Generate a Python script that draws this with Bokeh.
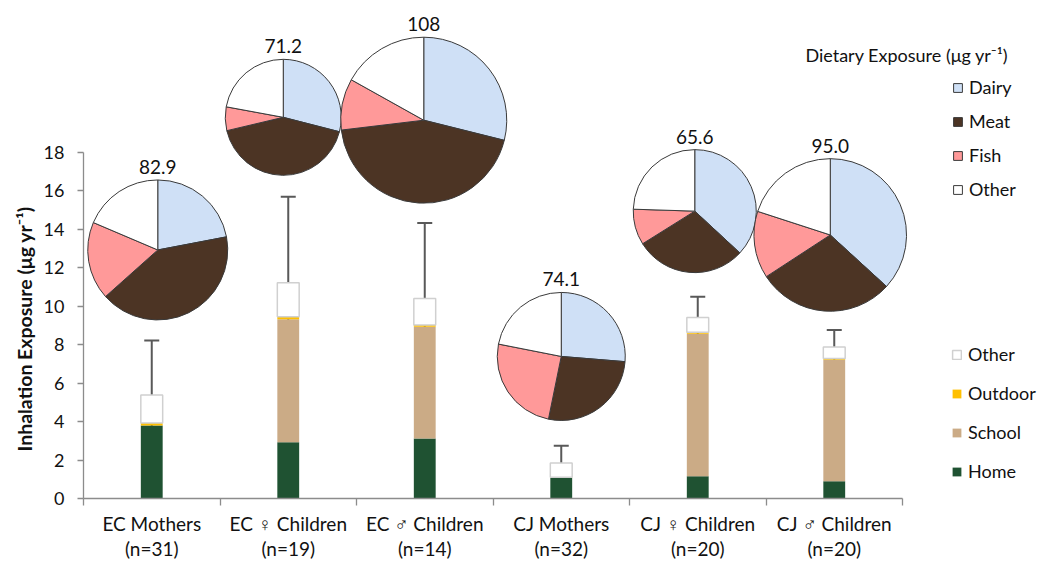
import math
from bokeh.plotting import figure
from bokeh.models import (ColumnDataSource, Range1d, FixedTicker, LinearAxis, Legend,
                          LegendItem, Whisker, TeeHead, Label, Title)
from bokeh.core.properties import value
from bokeh.embed import file_html
from bokeh.resources import INLINE

# ---------------- data ----------------
categories = ["EC Mothers\n(n=31)", "EC \u2640 Children\n(n=19)", "EC \u2642 Children\n(n=14)",
              "CJ Mothers\n(n=32)", "CJ \u2640 Children\n(n=20)", "CJ \u2642 Children\n(n=20)"]

# inhalation exposure (ug/yr), stacked
home = [3.80, 2.92, 3.12, 1.07, 1.16, 0.90]
school = [0.00, 6.41, 5.81, 0.00, 7.41, 6.32]
outdoor = [0.13, 0.12, 0.09, 0.04, 0.08, 0.06]
inh_other = [1.45, 1.78, 1.38, 0.74, 0.76, 0.60]
inh_sd = [2.84, 4.47, 3.93, 0.90, 1.09, 0.89]

# dietary exposure (ug/yr): totals and percentage shares
diet_total = [82.9, 71.2, 108, 74.1, 65.6, 95.0]
diet_label = ["82.9", "71.2", "108", "74.1", "65.6", "95.0"]
dairy = [22.0, 29.0, 28.9, 26.3, 36.9, 36.8]
meat = [41.4, 42.3, 44.2, 26.9, 29.2, 29.0]
fish = [18.0, 6.6, 10.0, 24.9, 9.4, 14.2]
diet_other = [18.6, 22.1, 16.9, 21.9, 24.5, 20.0]

# ---------------- layout (positions / sizes) ----------------
pie_dx_px = [6, -5, -1, 0, -3, -4]
pie_cy = [12.93, 19.83, 19.68, 7.39, 14.95, 13.71]
pie_r_px = [70, 58, 83, 64, 61.5, 76.3]
CAT_PX = 136.5

FONT = "Lato"
AXIS_GRAY = "#8c8c8c"
TXT = "#111111"

C_HOME = "#1f5232"
C_SCHOOL = "#cbab86"
C_OUTDOOR = "#ffc000"
C_OTHER = "#ffffff"
C_DAIRY = "#cfe0f6"
C_MEAT = "#4c3424"
C_FISH = "#ff9999"

W, H = 1043, 563
LEFT, BOTTOM = 83, 64
p = figure(width=W, height=H,
           x_range=Range1d(0, (W - LEFT) / CAT_PX),
           y_range=Range1d(0, (H - BOTTOM) / 19.261),
           x_axis_type=None, y_axis_type=None, output_backend="svg", toolbar_location=None,
           min_border_left=LEFT, min_border_right=0, min_border_top=0, min_border_bottom=BOTTOM)
p.outline_line_color = None
p.background_fill_color = "white"
p.border_fill_color = "white"

xs = [i + 0.5 for i in range(len(categories))]

# ---------------- axes ----------------
yaxis = LinearAxis(ticker=FixedTicker(ticks=list(range(0, 19, 2))), bounds=(0, 18),
                   major_tick_out=6, major_tick_in=0, minor_tick_out=0, minor_tick_in=0,
                   axis_line_color=AXIS_GRAY, major_tick_line_color=AXIS_GRAY,
                   axis_line_width=1.3, major_tick_line_width=1.3,
                   major_label_text_font=FONT, major_label_text_font_size="18px",
                   major_label_text_color=TXT, major_label_standoff=13)
p.add_layout(yaxis, "left")

ytitle = Title(text="Inhalation Exposure (\u03bcg yr\u207b\u00b9)", align="left", offset=47,
               standoff=10, text_font=FONT, text_font_size="19.5px", text_font_style="bold",
               text_color=TXT)
p.add_layout(ytitle, "left")

xaxis = LinearAxis(ticker=FixedTicker(ticks=xs, minor_ticks=list(range(0, 7))), bounds=(0, 6),
                   major_tick_out=0, major_tick_in=0, minor_tick_out=7, minor_tick_in=0,
                   axis_line_color=AXIS_GRAY, minor_tick_line_color=AXIS_GRAY,
                   axis_line_width=1.3, minor_tick_line_width=1.3,
                   major_label_overrides={x: c for x, c in zip(xs, categories)},
                   major_label_text_font=FONT, major_label_text_font_size="19px",
                   major_label_text_color=TXT, major_label_standoff=6,
                   major_label_text_line_height=1.12)
p.add_layout(xaxis, "below")

# ---------------- stacked bars ----------------
src = ColumnDataSource(dict(x=xs, home=home, school=school, outdoor=outdoor, other=inh_other))
bars = p.vbar_stack(["home", "school", "outdoor", "other"], x="x", width=0.16, source=src,
                    fill_color=[C_HOME, C_SCHOOL, C_OUTDOOR, C_OTHER],
                    line_color=[C_HOME, C_SCHOOL, C_OUTDOOR, "#d0d0d0"],
                    line_alpha=[0, 0, 0, 1], line_width=1.5)

totals = [h + s + o + t for h, s, o, t in zip(home, school, outdoor, inh_other)]
wsrc = ColumnDataSource(dict(base=xs, upper=[t + e for t, e in zip(totals, inh_sd)],
                             lower=[t - e for t, e in zip(totals, inh_sd)]))
wh = Whisker(base="base", upper="upper", lower="lower", source=wsrc,
             line_color="#595959", line_width=2,
             upper_head=TeeHead(size=15, line_color="#595959", line_width=2),
             lower_head=TeeHead(size=15, line_color="#595959", line_width=2))
p.add_layout(wh)

# ---------------- pies ----------------
pie_x = [x + dx / CAT_PX for x, dx in zip(xs, pie_dx_px)]
series = [("Dairy", dairy, C_DAIRY), ("Meat", meat, C_MEAT), ("Fish", fish, C_FISH),
          ("Other", diet_other, C_OTHER)]
cum = [0.0] * len(pie_x)
wedges = []
for name, vals, col in series:
    start = [math.pi / 2 - 2 * math.pi * c / 100 for c in cum]
    end = [math.pi / 2 - 2 * math.pi * (c + v) / 100 for c, v in zip(cum, vals)]
    cum = [c + v for c, v in zip(cum, vals)]
    s = ColumnDataSource(dict(x=pie_x, y=pie_cy, r=pie_r_px, start=start, end=end))
    w = p.wedge(x="x", y="y", radius="r", radius_units="screen", start_angle="start",
                end_angle="end", direction="clock", source=s, fill_color=col,
                line_color="#3a3a3a", line_width=1)
    wedges.append((name, w))

tsrc = ColumnDataSource(dict(x=pie_x, y=pie_cy, t=diet_label, off=[-(r + 13) for r in pie_r_px]))
p.text(x="x", y="y", text="t", y_offset="off", source=tsrc, text_align="center",
       text_baseline="alphabetic", text_font=value(FONT), text_font_size="19px",
       text_color=TXT)

# ---------------- legends & labels ----------------
diet_legend = Legend(items=[LegendItem(label=n, renderers=[w]) for n, w in wedges],
                     location=(869, 298), orientation="vertical",
                     glyph_width=11, glyph_height=11, label_standoff=6, label_height=21,
                     spacing=12, padding=0, margin=0, border_line_color=None,
                     background_fill_alpha=0, label_text_font=FONT,
                     label_text_font_size="18px", label_text_color=TXT)
p.add_layout(diet_legend)

inh_items = [("Other", bars[3]), ("Outdoor", bars[2]), ("School", bars[1]), ("Home", bars[0])]
inh_legend = Legend(items=[LegendItem(label=n, renderers=[r]) for n, r in inh_items],
                    location=(868, 16), orientation="vertical",
                    glyph_width=11, glyph_height=11, label_standoff=6, label_height=21,
                    spacing=17, padding=0, margin=0, border_line_color=None,
                    background_fill_alpha=0, label_text_font=FONT,
                    label_text_font_size="18px", label_text_color=TXT)
p.add_layout(inh_legend)

p.add_layout(Label(x=5.289, y=23.05, text="Dietary Exposure (\u03bcg yr\u207b\u00b9)",
                   text_font=FONT, text_font_size="18px", text_align="left",
                   text_baseline="alphabetic", text_color=TXT))

open("out.html", "w").write(file_html(p, INLINE))
